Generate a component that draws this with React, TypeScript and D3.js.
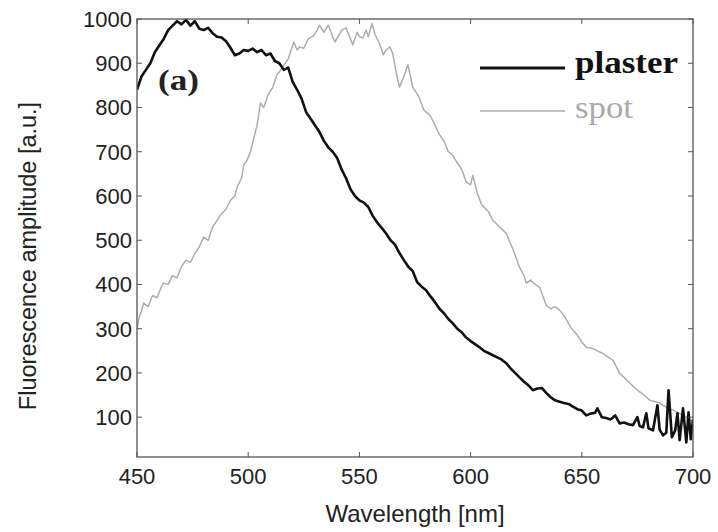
import React from "react";
import * as d3 from "d3";

const W = 718;
const H = 532;

const xTicks = [450, 500, 550, 600, 650, 700];
const yTicks = [100, 200, 300, 400, 500, 600, 700, 800, 900, 1000];

const plasterWl = [
  450, 452, 454, 456, 458, 460, 462, 464, 466, 468, 470, 472, 474, 476, 478, 480, 482, 484, 486, 488,
  490, 492, 494, 496, 498, 500, 502, 504, 506, 508, 510, 512, 514, 516, 518, 520, 522, 524, 526, 528,
  530, 532, 534, 536, 538, 540, 542, 544, 546, 548, 550, 552, 554, 556, 558, 560, 562, 564, 566, 568,
  570, 572, 574, 576, 578, 580, 582, 584, 586, 588, 590, 592, 594, 596, 598, 600, 602, 604, 606, 608,
  610, 612, 614, 616, 618, 620, 622, 624, 626, 628, 630, 632, 634, 636, 638, 640, 642, 644, 646, 648,
  650, 652, 654, 656, 657, 659, 661, 663, 665, 667, 669, 671, 673, 675, 676, 677.5, 679, 680, 682, 684,
  685, 686.5, 688, 689, 690.5, 692, 693, 694, 695.5, 697, 698, 699, 700,
];
const plasterVal = [
  840, 870, 885, 900, 925, 940, 955, 975, 985, 995, 988, 998, 985, 995, 978, 975, 980, 968, 960, 958,
  950, 935, 918, 922, 930, 928, 933, 925, 930, 918, 922, 905, 900, 885, 890, 858, 840, 820, 790, 775,
  760, 745, 725, 710, 700, 686, 660, 640, 615, 600, 590, 585, 575, 555, 540, 528, 515, 500, 490, 471,
  455, 440, 430, 405, 395, 387, 373, 360, 345, 335, 322, 312, 300, 292, 280, 272, 265, 258, 250, 245,
  240, 235, 230, 222, 210, 200, 190, 180, 172, 161, 165, 166, 155, 145, 138, 135, 132, 130, 124, 118,
  115, 104, 108, 110, 120, 100, 98, 95, 104, 86, 88, 84, 82, 100, 80, 77, 109, 75, 70, 127,
  72, 59, 65, 161, 55, 70, 109, 48, 120, 43, 111, 50, 95,
];

const spotWl = [
  450, 451, 452, 453, 455, 457, 459, 461, 462, 464, 466, 468, 470, 472, 474, 476, 478, 480, 482, 484,
  486, 488, 490, 492, 494, 495, 497, 498, 499.5, 501, 503, 504, 505.5, 507, 509, 511, 513, 514, 516, 518,
  520.5, 522, 523, 525, 527, 529, 531, 532, 534, 536, 538, 539, 541, 542, 544, 546, 547, 549, 550, 551.6,
  553, 554, 555.7, 557, 559, 560.7, 562, 563.7, 565, 566.5, 568, 570, 571.8, 573, 574, 576, 577, 579, 581.7, 584,
  586, 588, 590, 592, 594, 596, 598, 600, 601, 603, 605, 608, 610, 613, 616, 619, 622, 624, 625, 627,
  629, 631, 634, 636, 638, 640, 642, 645, 648, 650, 652, 655, 657, 659.5, 662, 664, 667, 669, 672, 675,
  678, 680.7, 683, 685, 688, 691, 694, 697, 700,
];
const spotVal = [
  300, 326, 340, 358, 350, 375, 370, 395, 403, 400, 420, 415, 440, 455, 450, 470, 485, 507, 500, 530,
  545, 560, 570, 590, 600, 620, 640, 670, 681, 700, 740, 760, 810, 800, 830, 845, 875, 880, 895, 910,
  948, 930, 937, 934, 955, 960, 975, 986, 970, 986, 960, 948, 965, 975, 980, 955, 941, 970, 960, 957,
  975, 960, 990, 965, 945, 919, 930, 937, 922, 880, 846, 870, 896, 870, 846, 830, 821, 794, 783, 760,
  738, 725, 700, 692, 675, 660, 632, 625, 647, 606, 580, 565, 545, 530, 516, 480, 439, 420, 403, 410,
  400, 394, 353, 345, 350, 342, 330, 303, 285, 270, 258, 255, 250, 244, 235, 229, 199, 190, 175, 161,
  150, 138, 135, 132, 122, 116, 108, 100, 90,
];

const left = 137;
const right = 693;
const top = 19;
const bottom = 457;

export default function App() {
  const x = d3.scaleLinear().domain([450, 700]).range([left, right]);
  const y = d3.scaleLinear().domain([10, 1000]).range([bottom, top]);

  const plaster = plasterWl.map((w, i) => [w, plasterVal[i]] as [number, number]);
  const spot = spotWl.map((w, i) => [w, spotVal[i]] as [number, number]);
  const line = d3
    .line<[number, number]>()
    .x((d) => x(d[0]))
    .y((d) => y(d[1]));

  const axisColor = "#555";
  const tickLen = 5;

  return (
    <svg
      width={W}
      height={H}
      style={{ position: "fixed", left: 0, top: 0, background: "#fff" }}
      fontFamily="'Liberation Sans', Arial, sans-serif"
    >
      <rect x={0} y={0} width={W} height={H} fill="#fff" />
      <defs>
        <clipPath id="plotclip">
          <rect x={left} y={top - 2} width={right - left} height={bottom - top + 2} />
        </clipPath>
      </defs>
      <g clipPath="url(#plotclip)">
        <path d={line(spot) || ""} fill="none" stroke="#adadad" strokeWidth={1.5} strokeLinejoin="round" />
        <path d={line(plaster) || ""} fill="none" stroke="#111" strokeWidth={2.6} strokeLinejoin="round" />
      </g>
      <rect
        x={left}
        y={top}
        width={right - left}
        height={bottom - top}
        fill="none"
        stroke={axisColor}
        strokeWidth={1.3}
      />
      {xTicks.map((t) => (
        <g key={"xt" + t}>
          <line x1={x(t)} x2={x(t)} y1={bottom} y2={bottom - tickLen} stroke={axisColor} strokeWidth={1} />
          <line x1={x(t)} x2={x(t)} y1={top} y2={top + tickLen} stroke={axisColor} strokeWidth={1} />
          <text x={x(t)} y={484} textAnchor="middle" fontSize={22} fill="#222">
            {t}
          </text>
        </g>
      ))}
      {yTicks.map((t) => (
        <g key={"yt" + t}>
          <line x1={left} x2={left + tickLen} y1={y(t)} y2={y(t)} stroke={axisColor} strokeWidth={1} />
          <line x1={right} x2={right - tickLen} y1={y(t)} y2={y(t)} stroke={axisColor} strokeWidth={1} />
          <text x={132} y={y(t) + 8} textAnchor="end" fontSize={22} fill="#222">
            {t}
          </text>
        </g>
      ))}
      <text x={(left + right) / 2} y={522} textAnchor="middle" fontSize={24} fill="#222">
        Wavelength [nm]
      </text>
      <text
        transform={`translate(36, 256) rotate(-90)`}
        textAnchor="middle"
        fontSize={23.5}
        fill="#222"
      >
        Fluorescence amplitude [a.u.]
      </text>
      <text
        x={158}
        y={90}
        fontFamily="'Liberation Serif', 'Times New Roman', serif"
        fontWeight="bold"
        fontSize={30}
        textLength={41}
        lengthAdjust="spacingAndGlyphs"
        fill="#222"
      >
        (a)
      </text>
      <line x1={480} x2={565} y1={68} y2={68} stroke="#111" strokeWidth={3} />
      <text
        x={575}
        y={73}
        fontFamily="'Liberation Serif', 'Times New Roman', serif"
        fontWeight="bold"
        fontSize={31}
        textLength={103}
        lengthAdjust="spacingAndGlyphs"
        fill="#111"
      >
        plaster
      </text>
      <line x1={480} x2={565} y1={111} y2={111} stroke="#adadad" strokeWidth={1.5} />
      <text
        x={575}
        y={118}
        fontFamily="'Liberation Serif', 'Times New Roman', serif"
        fontSize={32}
        textLength={58}
        lengthAdjust="spacingAndGlyphs"
        fill="#aaa"
      >
        spot
      </text>
    </svg>
  );
}
